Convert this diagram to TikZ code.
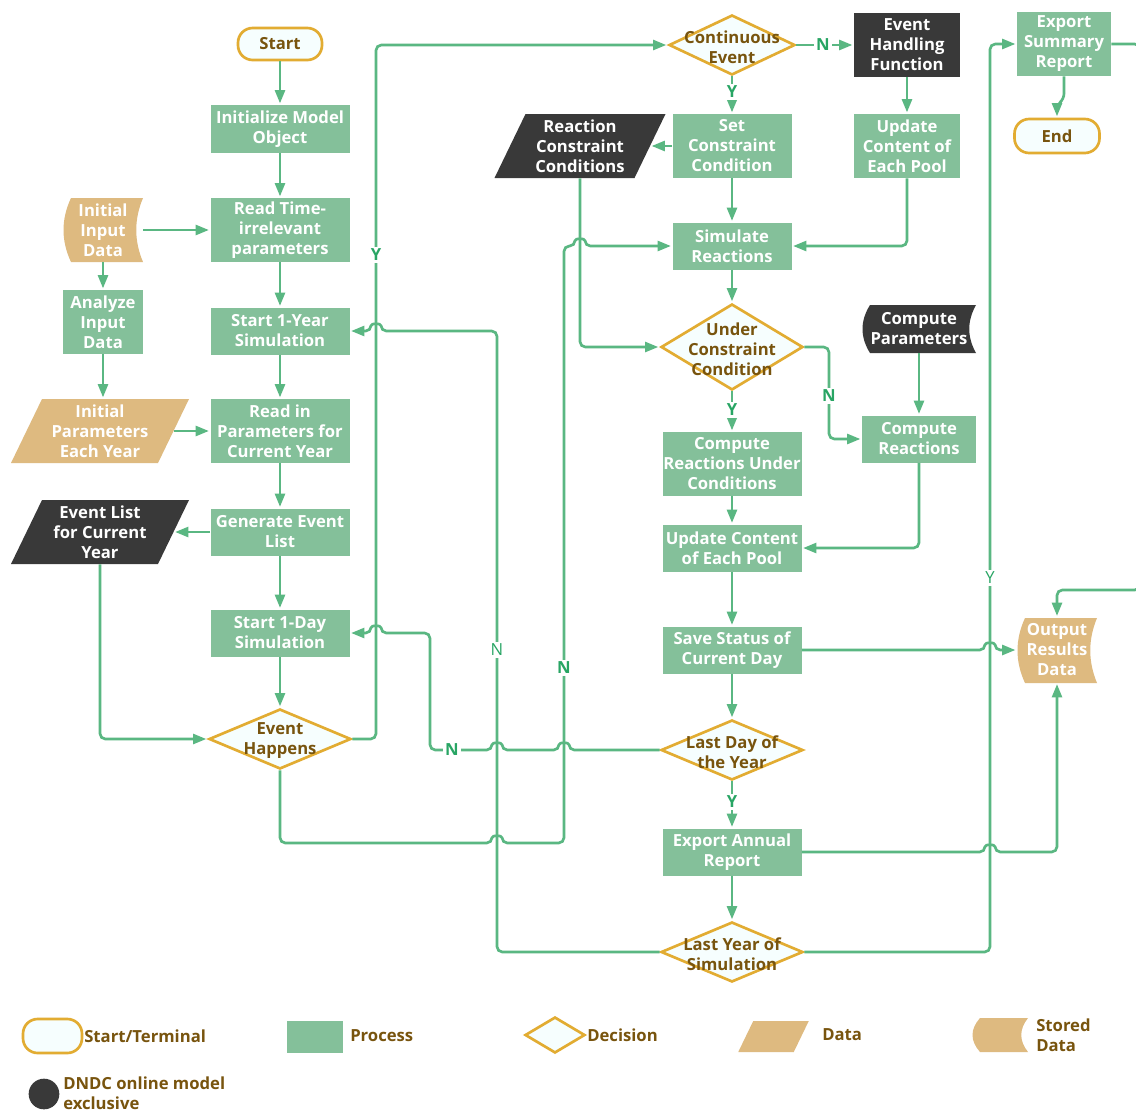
\documentclass[tikz,border=0pt]{standalone}
\usepackage{fontspec}
\setmainfont{Open Sans}
\usetikzlibrary{shapes.geometric,arrows.meta}
\definecolor{lineG}{RGB}{90,183,130}
\definecolor{procG}{RGB}{132,192,154}
\definecolor{tanC}{RGB}{222,186,128}
\definecolor{darkC}{RGB}{57,57,57}
\definecolor{goldC}{RGB}{226,172,50}
\definecolor{decF}{RGB}{246,254,254}
\definecolor{brownT}{RGB}{120,84,14}
\definecolor{lblG}{RGB}{40,165,100}
\newcommand{\myPara}[6]{%
  \fill[#6] ({#1-#3+#5},{#2-#4}) -- ({#1+#3+#5},{#2-#4}) -- ({#1+#3-#5},{#2+#4}) -- ({#1-#3-#5},{#2+#4}) -- cycle;}
\newcommand{\myStored}[5]{%
  \fill[#5] ({#1+8},#2) -- (#3,#2) .. controls ({#3-9},{#2+(#4-#2)/3}) and ({#3-9},{#4-(#4-#2)/3}) .. (#3,#4)
  -- ({#1+8},#4) .. controls ({#1-2},{#4-(#4-#2)/3}) and ({#1-2},{#2+(#4-#2)/3}) .. cycle;}
\tikzset{
  base/.style={inner sep=0pt, align=center, font=\fontsize{12.5}{15}\selectfont\bfseries},
  sz/.style 2 args={minimum width={#1*0.75pt}, minimum height={#2*0.75pt}},
  proc/.style={base, rectangle, fill=procG, text=white},
  darkbox/.style={base, rectangle, fill=darkC, text=white},
  term/.style={base, rectangle, rounded corners=11pt, draw=goldC, line width=2pt, fill=decF, text=brownT},
  dec/.style={diamond, draw=goldC, line width=2pt, fill=decF, inner sep=0pt},
  dectext/.style={base, text=brownT, yshift=-1.5pt},
  wtext/.style={base, text=white},
  conn/.style={draw=lineG, line width=2pt, rounded corners=4pt, -{Triangle[length=10pt,width=7.5pt]}, shorten >=1pt},
  lbl/.style={base, text=lblG, fill=white, inner sep=1.5pt},
  lblthin/.style={lbl, font=\fontsize{12.5}{15}\selectfont},
  legtext/.style={base, text=brownT, align=left},
}
\begin{document}
\begin{tikzpicture}[x=0.75pt,y=-0.75pt]
\fill[white] (0,0) rectangle (1136,1111);
\useasboundingbox (0,0) rectangle (1136,1111);

% ---------- left column ----------
\node[term, sz={84}{32}] (start) at (280,44) {Start};
\node[proc, sz={139}{48}] (init) at (280,129) {Initialize Model\\Object};
\node[proc, sz={139}{64}] (rtp) at (280,230) {Read Time-\\irrelevant\\parameters};
\node[proc, sz={139}{47}] (s1y) at (280,331) {Start 1-Year\\Simulation};
\node[proc, sz={139}{64}] (rip) at (280,431) {Read in\\Parameters for\\Current Year};
\node[proc, sz={139}{47}] (gel) at (280,532) {Generate Event\\List};
\node[proc, sz={139}{47}] (s1d) at (280,633) {Start 1-Day\\Simulation};
\node[dec, sz={142}{60}] (eh) at (280,739) {};
\node[dectext] at (eh) {Event\\Happens};

\myStored{63}{198}{143}{262}{tanC}
\node[wtext, sz={80}{64}] (iid) at (103,230) {Initial\\Input\\Data};
\node[proc, sz={80}{64}] (aid) at (103,322) {Analyze\\Input\\Data};
\myPara{100}{431}{73.5}{32}{15.5}{tanC}
\node[wtext, sz={147}{64}] (iped) at (100,431) {Initial\\Parameters\\Each Year};
\myPara{100}{532}{73.5}{32}{15.5}{darkC}
\node[wtext, sz={147}{64}] (elcy) at (100,532) {Event List\\for Current\\Year};

% ---------- middle / right ----------
\node[dec, sz={126}{60}] (ce) at (732,45) {};
\node[dectext] at (ce) {Continuous\\Event};
\node[darkbox, sz={106}{64}] (ehf) at (907,45) {Event\\Handling\\Function};
\node[proc, sz={119}{64}] (scc) at (732,146) {Set\\Constraint\\Condition};
\myPara{580}{146}{70}{32}{15.5}{darkC}
\node[wtext, sz={140}{64}] (rcc) at (580,146) {Reaction\\Constraint\\Conditions};
\node[proc, sz={106}{64}] (upc) at (907,146) {Update\\Content of\\Each Pool};
\node[proc, sz={119}{47}] (sr) at (732,246) {Simulate\\Reactions};
\node[dec, sz={142}{86}] (ucc) at (732,347) {};
\node[dectext] at (ucc) {Under\\Constraint\\Condition};
\myStored{862}{305}{976}{353}{darkC}
\node[wtext, sz={114}{48}] (cp) at (919,329) {Compute\\Parameters};
\node[proc, sz={114}{47}] (cr) at (919,439) {Compute\\Reactions};
\node[proc, sz={139}{64}] (cruc) at (732,464) {Compute\\Reactions Under\\Conditions};
\node[proc, sz={139}{47}] (upm) at (732,548) {Update Content\\of Each Pool};
\node[proc, sz={139}{47}] (ssd) at (732,650) {Save Status of\\Current Day};
\node[dec, sz={142}{60}] (ld) at (732,750) {};
\node[dectext] at (ld) {Last Day of\\the Year};
\node[proc, sz={139}{47}] (ear) at (732,852) {Export Annual\\Report};
\node[dec, sz={142}{60}] (lys) at (732,952) {};
\node[dectext] at (lys) {Last Year of\\Simulation};
\node[proc, sz={94}{64}] (esr) at (1064,44) {Export\\Summary\\Report};
\node[term, sz={85}{34}] (endn) at (1057,136) {End};
\myStored{1017}{618}{1097}{683}{tanC}
\node[wtext, sz={80}{65}] (ord) at (1057,650) {Output\\Results\\Data};

% ---------- connectors ----------
\draw[conn] (start) -- (init);
\draw[conn] (init) -- (rtp);
\draw[conn] (iid.east) -- (rtp.west);
\draw[conn] (iid) -- (aid);
\draw[conn] (aid.south) -- (aid.south |- iped.north);
\draw[conn] (rtp) -- (s1y);
\draw[conn] (s1y) -- (rip);
\draw[conn] (iped.east) -- (rip.west);
\draw[conn] (rip) -- (gel);
\draw[conn] (gel.west) -- (elcy.east);
\draw[conn] (gel) -- (s1d);
\draw[conn] (s1d) -- (eh);
\draw[conn] (elcy.south) |- (eh.west);
\draw[conn] (eh.east) -- (376,739) -- (376,45) -- (ce.west);
\draw[conn] (eh.south) -- (280,843) -- (492,843) .. controls (492,835) and (502,835) .. (502,843)
  -- (564,843) -- (564,246) -- (575,246) .. controls (575,238) and (585,238) .. (585,246) -- (sr.west);
\draw[conn] (ce.east) -- (ehf.west);
\draw[conn] (ce.south) -- (scc.north);
\draw[conn] (scc.west) -- (rcc.east);
\draw[conn] (rcc.south) |- (ucc.west);
\draw[conn] (ehf) -- (upc);
\draw[conn] (upc.south) |- (sr.east);
\draw[conn] (scc) -- (sr);
\draw[conn] (sr) -- (ucc);
\draw[conn] (ucc.east) -- (829,347) |- (cr.west);
\draw[conn] (cp.south) -- (cp.south |- cr.north);
\draw[conn] (ucc.south) -- (cruc.north);
\draw[conn] (cruc) -- (upm);
\draw[conn] (cr.south) |- (upm.east);
\draw[conn] (upm) -- (ssd);
\draw[conn] (ssd.east) -- (985,650) .. controls (985,642) and (995,642) .. (995,650) -- (ord.west);
\draw[conn] (ssd) -- (ld);
\draw[conn] (ld.west) -- (569,750) .. controls (569,742) and (559,742) .. (559,750)
  -- (502,750) .. controls (502,742) and (492,742) .. (492,750)
  -- (430,750) -- (430,633) -- (381,633) .. controls (381,625) and (371,625) .. (371,633) -- (s1d.east);
\draw[conn] (ld.south) -- (ear.north);
\draw[conn] (ear.east) -- (985,852) .. controls (985,844) and (995,844) .. (995,852) -- (1057,852) -- (ord.south);
\draw[conn] (ear) -- (lys);
\draw[conn] (lys.west) -- (497,952) -- (497,331) -- (381,331) .. controls (381,323) and (371,323) .. (371,331) -- (s1y.east);
\draw[conn] (lys.east) -- (990,952) -- (990,44) -- (esr.west);
\draw[conn] (esr.east) -- (1140,44) -- (1140,590) -- (1057,590) -- (ord.north);
\draw[conn] (esr.south) -- (1064,99) -- (1057,105) -- (endn.north);

% ---------- branch labels ----------
\node[lbl] at (376,255) {Y};
\node[lbl] at (564,668) {N};
\node[lbl] at (823,45) {N};
\node[lbl] at (732,92) {Y};
\node[lbl] at (829,396) {N};
\node[lbl] at (732,410) {Y};
\node[lbl] at (452,750) {N};
\node[lbl] at (732,802) {Y};
\node[lblthin] at (497,650) {N};
\node[lblthin] at (990,578) {Y};

% ---------- legend ----------
\node[term, sz={59}{34}] (lg1) at (52.5,1036) {};
\node[legtext, anchor=west] (lt1) at (84,1036) {Start/Terminal};
\node[proc, sz={56}{32}] (lg2) at (315,1037) {};
\node[legtext, anchor=west] (lt2) at (350,1036) {Process};
\node[dec, sz={60}{36}] (lg3) at (555,1035) {};
\node[legtext, anchor=west] (lt3) at (587,1035) {Decision};
\myPara{773.5}{1036.5}{27.75}{15.5}{7.5}{tanC}
\node[legtext, anchor=west] (lt4) at (822,1035) {Data};
\myStored{972}{1018}{1028}{1052}{tanC}
\node[legtext, anchor=west] (lt5) at (1036,1035) {Stored\\Data};
\node[circle, fill=darkC, minimum size=23pt, inner sep=0pt] (lg6) at (44,1094) {};
\node[legtext, anchor=west] (lt6) at (63,1093) {DNDC online model\\exclusive};
\end{tikzpicture}
\end{document}
